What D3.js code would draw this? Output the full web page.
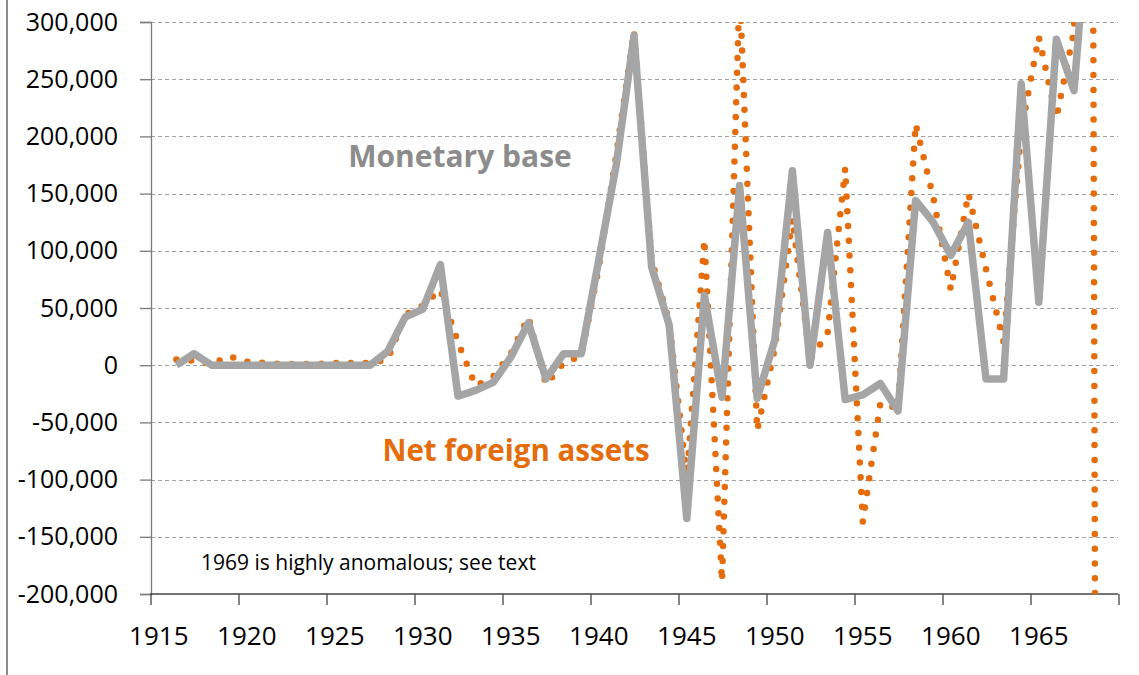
<!DOCTYPE html>
<html>
<head>
<meta charset="utf-8">
<script src="https://cdn.jsdelivr.net/npm/d3@7"></script>
<style>
  html, body { margin: 0; padding: 0; background: #fff; }
  svg { display: block; }
  text { font-family: "Open Sans", "Noto Sans", sans-serif; }
</style>
</head>
<body>
<svg id="chart" width="1139" height="675"></svg>
<script>
const years = d3.range(1915, 1970);
const monetaryBase = [
  null, 0, 10000, 0, 0, 0, 0, 0, 0, 0,
  0, 0, 0, 12000, 42000, 49000, 88000, -27000, -22000, -15000,
  7000, 37000, -12000, 10000, 10000, 92000, 176000, 288000, 86000, 35000,
  -134000, 61000, -28000, 157000, -29000, 22000, 170000, 0, 116000, -30000,
  -26000, -16000, -40000, 144000, 125000, 96000, 125000, -12000, -12000, 246000,
  55000, 285000, 240000, 430000, 900000
];
const netForeignAssets = [
  null, 5000, 4000, 1000, 8000, 3000, 2000, 1000, 1000, 1000,
  2000, 2000, 2000, 5000, 44000, 52000, 66000, 20000, -18000, -10000,
  10000, 42000, -17000, 2000, 8000, 85000, 185000, 292000, 92000, 38000,
  -99000, 110000, -189000, 330000, -57000, 15000, 128000, 5000, 28000, 172000,
  -137000, -33000, -38000, 211000, 147000, 66000, 150000, 84000, 20000, 205000,
  287000, 216000, 292000, 800000, -4400000
];
const yTicks = [-200000, -150000, -100000, -50000, 0, 50000, 100000, 150000, 200000, 250000, 300000];
const xLabelYears = [1915, 1920, 1925, 1930, 1935, 1940, 1945, 1950, 1955, 1960, 1965];
const seriesNames = ["Monetary base", "Net foreign assets"];
const note = "1969 is highly anomalous; see text";

const svg = d3.select("#chart");
const pLeft = 150, pRight = 1118, pTop = 22, pBottom = 594;

const x = d3.scaleBand().domain(years).range([pLeft, pRight]).padding(0);
const bw = x.bandwidth();
const cx = yr => x(yr) + bw / 2;
const y = d3.scaleLinear().domain([-200000, 300000]).range([pBottom, pTop]);
const fmt = d => d3.format(",")(d).replace("\u2212", "-");

// outer border fragment on the left
svg.append("line").attr("x1", 7).attr("x2", 7).attr("y1", 0).attr("y2", 675)
  .attr("stroke", "#8a8a8a").attr("stroke-width", 2);

// gridlines
svg.append("g").selectAll("line").data(yTicks.filter(d => d !== -200000)).join("line")
  .attr("x1", pLeft + 1).attr("x2", pRight)
  .attr("y1", d => Math.round(y(d)) + 0.5).attr("y2", d => Math.round(y(d)) + 0.5)
  .attr("stroke", "#a0a0a0").attr("stroke-width", 1).attr("stroke-dasharray", "4,3");

// y axis
const yAxis = d3.axisLeft(y).tickValues(yTicks).tickFormat(fmt).tickSize(11).tickPadding(22);
const gy = svg.append("g").attr("transform", `translate(${pLeft + 1},0)`).call(yAxis);
gy.attr("font-family", null).attr("font-size", null);
gy.select(".domain").attr("stroke", "#7a7a7a").attr("stroke-width", 1.3);
gy.selectAll(".tick line").attr("stroke", "#7a7a7a").attr("stroke-width", 1.3);
gy.selectAll(".tick text").attr("font-size", 25).attr("fill", "#000");

// x axis: line, boundary ticks, centered labels
svg.append("line").attr("x1", pLeft).attr("x2", pRight).attr("y1", pBottom).attr("y2", pBottom)
  .attr("stroke", "#444").attr("stroke-width", 1.3);
const tickPos = xLabelYears.map(d => x(d)).concat([pRight]);
svg.append("g").selectAll("line").data(tickPos).join("line")
  .attr("x1", d => d + 1).attr("x2", d => d + 1).attr("y1", pBottom).attr("y2", pBottom + 11)
  .attr("stroke", "#444").attr("stroke-width", 1.3);
svg.append("g").selectAll("text").data(xLabelYears).join("text")
  .attr("x", d => cx(d)).attr("y", 645).attr("text-anchor", "middle")
  .attr("font-size", 26).attr("fill", "#000").text(d => d);

// clip
svg.append("clipPath").attr("id", "plotclip").append("rect")
  .attr("x", pLeft).attr("y", pTop).attr("width", pRight - pLeft + 10).attr("height", pBottom - pTop);

const line = d3.line().defined(d => d[1] !== null).x(d => cx(d[0])).y(d => y(d[1]));
const plot = svg.append("g").attr("clip-path", "url(#plotclip)");

plot.append("path").datum(years.map((yr, i) => [yr, netForeignAssets[i]]))
  .attr("d", line).attr("fill", "none").attr("stroke", "#E46C0A")
  .attr("stroke-width", 6.5).attr("stroke-linecap", "round")
  .attr("stroke-dasharray", "0 14.8");

plot.append("path").datum(years.map((yr, i) => [yr, monetaryBase[i]]))
  .attr("d", line).attr("fill", "none").attr("stroke", "#A5A5A5")
  .attr("stroke-width", 7.5).attr("stroke-linejoin", "round");

// labels
svg.append("text").attr("x", 460).attr("y", 167).attr("text-anchor", "middle")
  .attr("font-size", 30).attr("font-weight", "bold").attr("fill", "#8c8c8c").text(seriesNames[0]);
svg.append("text").attr("x", 516).attr("y", 461).attr("text-anchor", "middle")
  .attr("font-size", 29.5).attr("font-weight", "bold").attr("fill", "#E46C0A").text(seriesNames[1]);
svg.append("text").attr("x", 201).attr("y", 570)
  .attr("font-size", 21).attr("fill", "#000").text(note);
</script>
</body>
</html>
